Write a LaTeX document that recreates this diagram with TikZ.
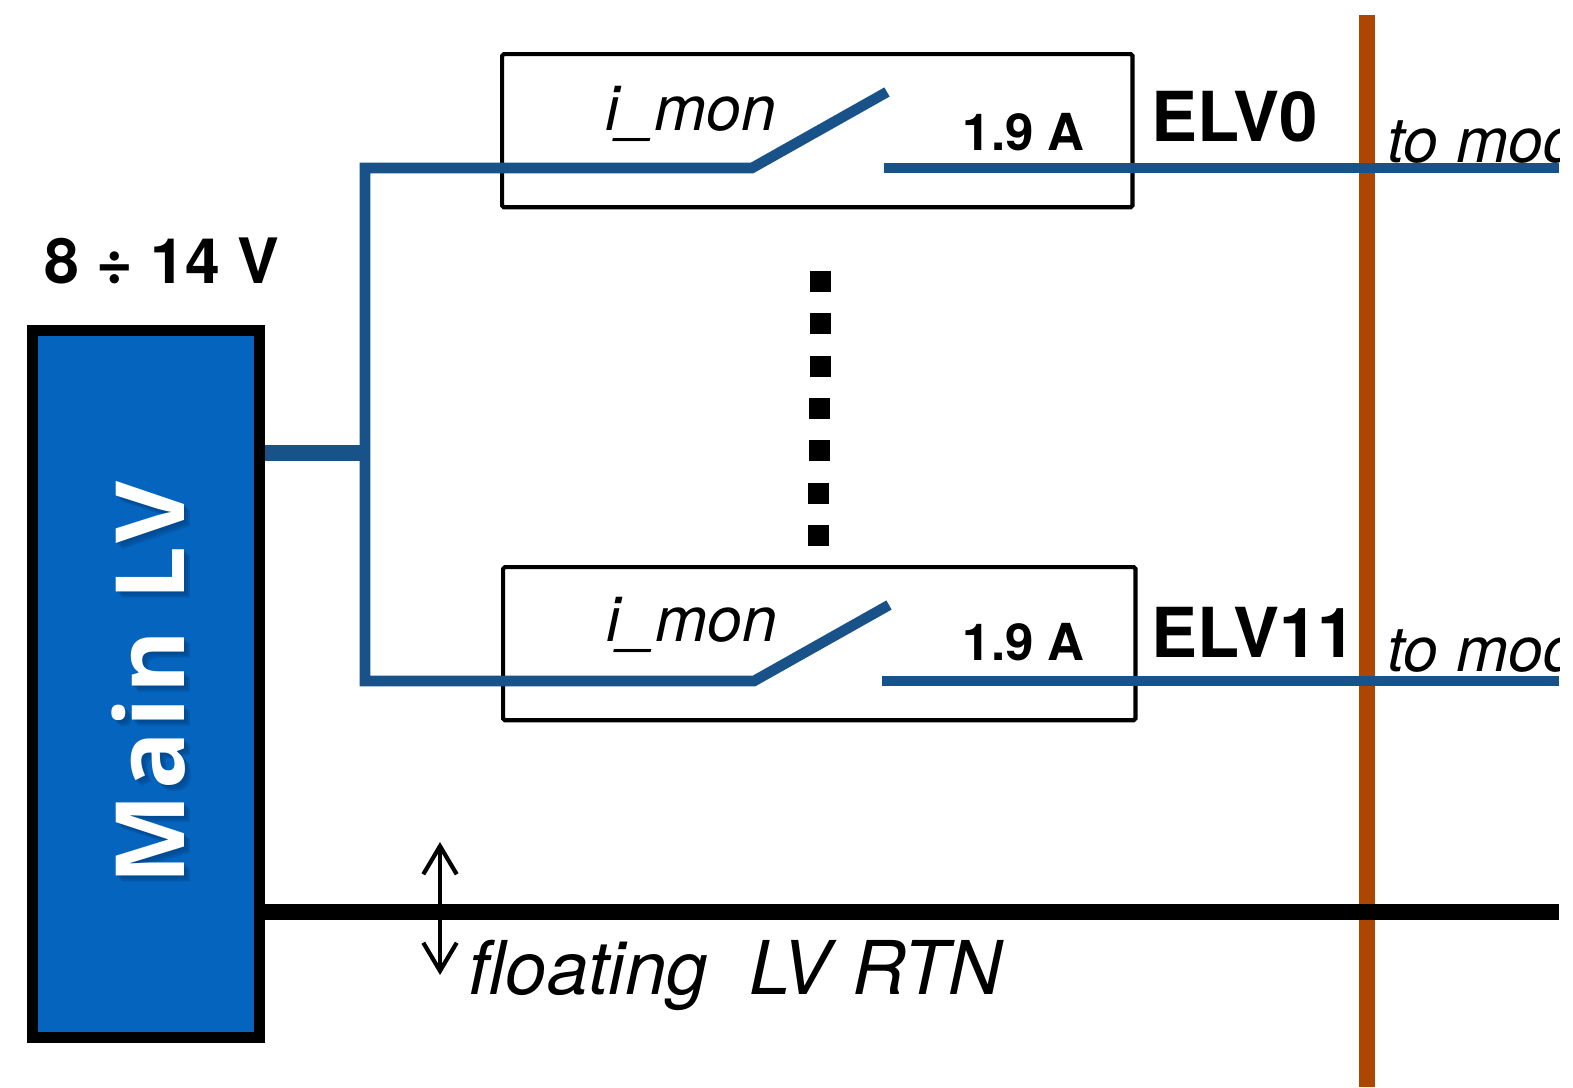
\documentclass[tikz,border=0pt]{standalone}
\usepackage{fontspec}
\setmainfont{TeX Gyre Heros}
\newfontfamily\lvfont[LetterSpace=5]{Open Sans}
\usepackage{tikz}
\usetikzlibrary{arrows.meta}
\definecolor{lvblue}{RGB}{4,100,190}
\definecolor{wireblue}{RGB}{24,82,136}
\definecolor{wallbrown}{RGB}{172,70,0}
\definecolor{shadeblue}{RGB}{2,62,125}
\tikzset{
  wire/.style={draw=wireblue,line width=3pt},
  elvbox/.style={draw,line width=1.2pt,rounded corners=0.5pt,minimum width=630*0.2845pt,minimum height=153*0.2845pt,inner sep=0pt,anchor=north west},
  label/.style={inner sep=0pt,anchor=base west},
  elvname/.style={label,font=\fontsize{19.6pt}{20pt}\selectfont\bfseries},
  amps/.style={label,font=\fontsize{14.5pt}{15pt}\selectfont\bfseries},
  mon/.style={label,font=\fontsize{17.8pt}{18pt}\selectfont\itshape},
  lvname/.style={rotate=90,inner sep=0pt,font=\fontsize{27.2pt}{28pt}\lvfont\bfseries}
}
\begin{document}
\begin{tikzpicture}[x=0.01cm,y=-0.01cm,>=Stealth]
            \useasboundingbox (0,0) rectangle (1573,1087);
            % wall
            \coordinate (walltop) at (1367,15);
            \coordinate (wallbot) at (1367,1087);
            \draw [wallbrown,line width=16*0.2845pt] (walltop) -- (wallbot);
            % main supply
            \node [draw,fill=lvblue,line width=3pt,minimum width=227*0.2845pt,minimum height=707*0.2845pt,inner sep=0pt,anchor=north west] (mainlv) at (27,325) {};
            \foreach \d in {2,4,6}
              \node [lvname,text=shadeblue,opacity=0.3] at (148.5+\d,683+\d) {Main LV};
            \node [lvname,text=white] (mainname) at (148.5,683) {Main LV};
            \node [label,font=\fontsize{17.8pt}{18pt}\selectfont\bfseries] (vrange) at (44,283) {8 ÷ 14 V};
            % boxes
            \node [elvbox] (elvA) at (500,52) {};
            \node [elvbox,minimum width=632*0.2845pt] (elvB) at (501,565) {};
            \node [mon] (monA) at (605,130) {i\_mon};
            \node [mon] (monB) at (606,641) {i\_mon};
            \node [amps] (ampA) at (962,150) {1.9 A};
            \node [amps] (ampB) at (962,660) {1.9 A};
            \node [elvname] (nameA) at (1151,141) {ELV0};
            \node [elvname] (nameB) at (1151,657) {ELV11};
            % wires
            \coordinate (busA) at (365,168);
            \coordinate (busB) at (365,681);
            \coordinate (busM) at (365,453);
            \coordinate (hingeA) at (752,168);
            \coordinate (hingeB) at (754,681);
            \coordinate (bladeA) at (887,92);
            \coordinate (bladeB) at (889,605);
            \coordinate (contA) at (884,168);
            \coordinate (contB) at (882,681);
            \coordinate (outA) at (1559,168);
            \coordinate (outB) at (1559,681);
            \draw [wire] (bladeA) -- (hingeA) -- (busA) -- (busB) -- (hingeB) -- (bladeB);
            \draw [wire,line width=4.4pt] (mainlv.east |- busM) -- (busM);
            \draw [wire] (contA) -- (outA);
            \draw [wire] (contB) -- (outB);
            % return
            \coordinate (rtn) at (mainlv.east |- 0,912);
            \coordinate (rtnend) at (1559,912);
            \draw [line width=4.6pt] (rtn) -- (rtnend);
            \coordinate (uptip) at (440,842);
            \coordinate (downtip) at (440,975);
            \draw [{Straight Barb[length=8pt,width=9.5pt]}-{Straight Barb[length=8pt,width=9.5pt]},line width=1.2pt] (uptip) -- (downtip);
            \node [label,font=\fontsize{21.1pt}{22pt}\selectfont\itshape] (rtnlabel) at (468,994) {floating\ \ LV RTN};
            % dots
            \foreach \x/\y in {820/271,820/313,820/356,819/398,819/440,818/483,818/525}
              \fill (\x-10.5,\y) rectangle ++(21,21);
            % cut at the right edge
            \begin{scope}
              \clip (1380,100) rectangle (1559,700);
              \node [mon] (toA) at (1387,162) {to mod};
              \node [mon] (toB) at (1387,671) {to mod};
            \end{scope}
        \end{tikzpicture}
\end{document}
